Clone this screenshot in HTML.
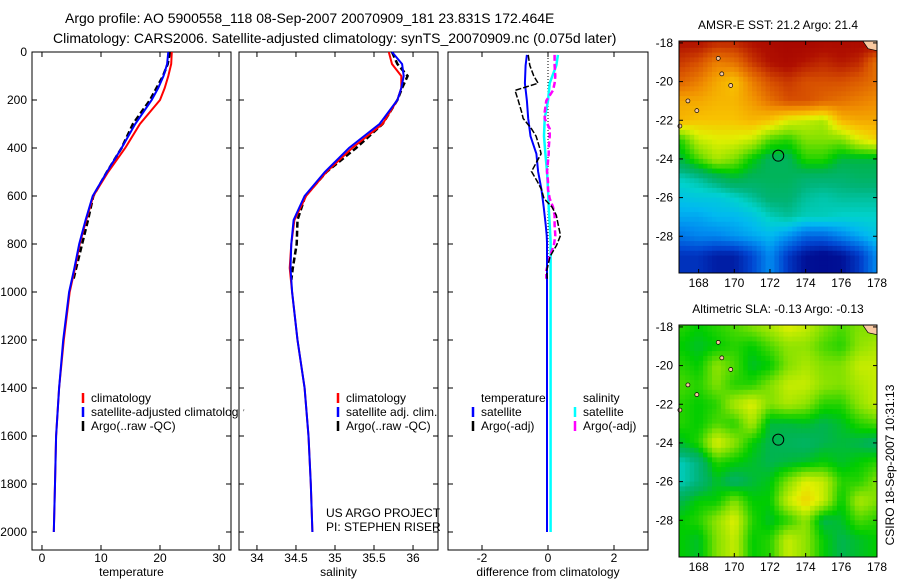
<!DOCTYPE html>
<html><head><meta charset="utf-8"><style>
body{margin:0;background:#fff;width:900px;height:580px;overflow:hidden;font-family:"Liberation Sans",sans-serif}
svg text{font-family:"Liberation Sans",sans-serif;fill:#000}
</style></head><body>
<svg id="s" width="900" height="580" xmlns="http://www.w3.org/2000/svg">
<text x="65" y="23" font-size="14">Argo profile: AO 5900558_118 08-Sep-2007 20070909_181 23.831S 172.464E</text>
<text x="53" y="43" font-size="14">Climatology: CARS2006. Satellite-adjusted climatology: synTS_20070909.nc (0.075d later)</text>
</svg>
<script>
// ---------- DATA ----------
const tDepth=[0,50,100,150,200,300,400,500,600,700,800,900,1000,1200,1400,1600,1800,2000];
const tClim=[22.0,21.9,21.4,20.8,20.0,16.6,14.1,11.2,8.7,7.5,6.4,5.6,4.7,3.7,2.9,2.4,2.2,2.0];
const tSat=[21.4,21.2,20.6,19.7,18.6,15.8,13.5,11.0,8.6,7.4,6.3,5.5,4.6,3.6,2.9,2.4,2.2,2.0];
const aDepth=[0,50,100,150,200,300,400,500,600,700,800,900,950];
const tArgo=[21.7,21.3,20.5,19.4,18.3,15.4,13.5,11.0,8.7,7.8,6.8,5.8,5.3];
const sClim=[35.69,35.73,35.85,35.85,35.80,35.61,35.22,34.89,34.63,34.48,34.44,34.42,34.45,34.52,34.61,34.66,34.69,34.71];
const sSat=[35.73,35.86,35.88,35.85,35.80,35.57,35.18,34.87,34.61,34.47,34.44,34.43,34.45,34.52,34.61,34.66,34.69,34.71];
const sArgo=[35.73,35.80,35.93,35.86,35.80,35.61,35.27,34.89,34.62,34.52,34.51,34.46,34.44];
const dDepth=[12,56,130,203,277,351,424,498,572,646,720,764,793,852,911,970,1000,1500,2000];
const dTSat=[-0.64,-0.68,-0.7,-0.64,-0.6,-0.53,-0.35,-0.3,-0.2,-0.13,-0.07,-0.04,-0.03,-0.03,-0.03,-0.03,-0.03,-0.03,-0.03];
const dSSat=[0.3,0.25,0.05,0,-0.1,-0.12,-0.08,-0.03,0,0.02,0.05,0.07,0.08,0.08,0.08,0.08,0.08,0.08,0.08];
const dArgoDepth=[12,56,100,130,160,203,250,277,320,351,400,424,498,540,572,611,646,680,720,764,805,852,911,945];
const dTArgo=[-0.6,-0.55,-0.43,-0.3,-1.0,-0.9,-0.8,-0.75,-0.5,-0.36,-0.25,-0.21,-0.5,-0.32,-0.2,-0.12,0.12,0.25,0.31,0.38,0.26,0.06,-0.04,-0.02];
const dSArgo=[0.2,0.2,0.22,0.2,0.15,-0.05,-0.1,-0.1,0.05,0.05,0.02,0.02,-0.03,0.0,0.0,0.05,0.15,0.2,0.2,0.22,0.18,0.05,-0.05,-0.05];
const tTicks=[0,10,20,30], sTicks=[34,34.5,35,35.5,36], dTicks=[-2,0,2];
const zTicks=[0,200,400,600,800,1000,1200,1400,1600,1800,2000];
const lonTicks=[168,170,172,174,176,178], latTicks=[-18,-20,-22,-24,-26,-28];
const sstGrid=[
[0.93,0.93,0.9,0.9,0.93,0.95,0.97,0.97,0.95,0.95,0.95,0.95],
[0.88,0.85,0.78,0.8,0.88,0.93,0.95,0.92,0.9,0.92,0.9,0.8],
[0.82,0.78,0.72,0.68,0.78,0.85,0.88,0.85,0.85,0.85,0.83,0.8],
[0.72,0.72,0.7,0.7,0.74,0.8,0.85,0.85,0.82,0.8,0.78,0.76],
[0.7,0.68,0.68,0.68,0.7,0.68,0.62,0.6,0.58,0.7,0.72,0.72],
[0.5,0.6,0.62,0.62,0.6,0.52,0.5,0.55,0.55,0.55,0.62,0.66],
[0.45,0.52,0.58,0.55,0.48,0.43,0.43,0.5,0.5,0.45,0.45,0.45],
[0.36,0.38,0.42,0.45,0.43,0.43,0.43,0.41,0.41,0.41,0.42,0.42],
[0.32,0.33,0.33,0.35,0.38,0.41,0.41,0.38,0.37,0.38,0.38,0.38],
[0.28,0.28,0.3,0.3,0.32,0.36,0.38,0.36,0.36,0.35,0.35,0.35],
[0.22,0.24,0.24,0.26,0.28,0.3,0.26,0.2,0.2,0.24,0.28,0.32],
[0.13,0.13,0.1,0.1,0.16,0.25,0.14,0.08,0.06,0.08,0.14,0.25]];
const slaGrid=[
[0.5,0.48,0.5,0.52,0.55,0.58,0.62,0.6,0.55,0.52,0.55,0.55],
[0.48,0.46,0.48,0.5,0.48,0.52,0.56,0.56,0.52,0.5,0.56,0.58],
[0.5,0.48,0.56,0.52,0.46,0.48,0.55,0.58,0.55,0.55,0.6,0.6],
[0.52,0.5,0.55,0.5,0.5,0.55,0.6,0.6,0.56,0.55,0.58,0.6],
[0.5,0.48,0.5,0.58,0.62,0.55,0.58,0.56,0.5,0.5,0.56,0.6],
[0.5,0.48,0.52,0.5,0.58,0.45,0.45,0.46,0.44,0.46,0.5,0.52],
[0.46,0.5,0.62,0.56,0.48,0.44,0.43,0.42,0.44,0.45,0.44,0.42],
[0.36,0.4,0.5,0.48,0.46,0.44,0.45,0.46,0.48,0.46,0.48,0.5],
[0.36,0.4,0.46,0.42,0.45,0.47,0.55,0.62,0.6,0.5,0.5,0.55],
[0.44,0.48,0.48,0.55,0.48,0.48,0.6,0.66,0.6,0.48,0.58,0.55],
[0.48,0.5,0.56,0.62,0.5,0.46,0.5,0.56,0.44,0.46,0.52,0.5],
[0.48,0.46,0.55,0.6,0.48,0.5,0.6,0.56,0.48,0.44,0.46,0.48]];
const floatLon=172.464, floatLat=-23.831;

// ---------- RENDER ----------
const S=document.getElementById('s'), NS='http://www.w3.org/2000/svg';
function mk(tag,attrs,parent){const e=document.createElementNS(NS,tag);for(const k in attrs)e.setAttribute(k,attrs[k]);(parent||S).appendChild(e);return e;}
const yZ=d=>52+d*0.24;
const panels=[
 {x0:32,x1:231,min:-1.69,max:32.03,ticks:tTicks,label:'temperature',name:'temperature'},
 {x0:239,x1:438,min:33.77,max:36.32,ticks:sTicks,label:'salinity',name:'salinity'},
 {x0:448,x1:648,min:-3.03,max:3.03,ticks:dTicks,label:'difference from climatology',name:'difference'}];
panels.forEach(p=>{p.sx=v=>p.x0+(v-p.min)/(p.max-p.min)*(p.x1-p.x0);});
function line(p,depths,vals,color,w,dash,name){
  const pts=depths.map((d,i)=>p.sx(vals[i]).toFixed(1)+','+yZ(d).toFixed(1)).join(' ');
  const e=mk('polyline',{points:pts,fill:'none',stroke:color,'stroke-width':w});
  if(dash)e.setAttribute('stroke-dasharray',dash);
  
  
}
panels.forEach((p,pi)=>{
  const r=mk('rect',{x:p.x0,y:52,width:p.x1-p.x0,height:498,fill:'#fff',stroke:'#000','stroke-width':1});
  
  
  p.ticks.forEach(t=>{const x=p.sx(t);
    mk('line',{x1:x,y1:550,x2:x,y2:545,stroke:'#000'});mk('line',{x1:x,y1:52,x2:x,y2:57,stroke:'#000'});
    const tx=mk('text',{x:x,y:562,'font-size':12,'text-anchor':'middle'});tx.textContent=t;
    
    });
  zTicks.forEach(z=>{const y=yZ(z);
    mk('line',{x1:p.x0,y1:y,x2:p.x0+5,y2:y,stroke:'#000'});mk('line',{x1:p.x1,y1:y,x2:p.x1-5,y2:y,stroke:'#000'});
    if(pi==0){const tx=mk('text',{x:27,y:y+4,'font-size':12,'text-anchor':'end'});tx.textContent=z;
      
      }});
  const lb=mk('text',{x:(p.x0+p.x1)/2,y:576,'font-size':12,'text-anchor':'middle'});lb.textContent=p.label;
  
  
});
const [P1,P2,P3]=panels;
line(P1,aDepth,tArgo,'#000',2.5,'6,3','temp-argo-line');
line(P1,tDepth,tClim,'#f00',2,null,'temp-climatology-line');
line(P1,tDepth,tSat,'#00f',2,null,'temp-satellite-line');
line(P2,aDepth,sArgo,'#000',2.5,'6,3','sal-argo-line');
line(P2,tDepth,sClim,'#f00',2,null,'sal-climatology-line');
line(P2,tDepth,sSat,'#00f',2,null,'sal-satellite-line');
mk('line',{x1:P3.sx(0),y1:52,x2:P3.sx(0),y2:262,stroke:'#000','stroke-dasharray':'1,2'});
line(P3,dDepth,dSSat,'#0ff',2.5,null,'diff-sal-satellite-line');
line(P3,dArgoDepth,dSArgo,'#f0f',2.5,'6,3','diff-sal-argo-line');
line(P3,dDepth,dTSat,'#00f',2,null,'diff-temp-satellite-line');
line(P3,dArgoDepth,dTArgo,'#000',1.5,'6,2','diff-temp-argo-line');
function leg(x,y,color,txt,name){
  if(color)mk('line',{x1:x,y1:y-9,x2:x,y2:y+1,stroke:color,'stroke-width':2.5});
  const t=mk('text',{x:x+8,y:y,'font-size':12});t.textContent=txt;
  
  
  return t;}
leg(83,402,'#f00','climatology','legend-climatology');
leg(83,416,'#00f','satellite-adjusted climatology','legend-satellite-adjusted');
leg(83,430,'#000','Argo(..raw -QC)','legend-argo');
mk('rect',{x:239.5,y:405,width:4,height:14,fill:'#fff'});
leg(338,402,'#f00','climatology','legend2-climatology');
leg(338,416,'#00f','satellite adj. clim.','legend2-satellite');
leg(338,430,'#000','Argo(..raw -QC)','legend2-argo');
leg(473,402,null,'temperature','legend-temperature-header');
leg(473,416,'#00f','satellite','legend3-temp-satellite');
leg(473,430,'#000','Argo(-adj)','legend3-temp-argo');
leg(575,402,null,'salinity','legend-salinity-header');
leg(575,416,'#0ff','satellite','legend3-sal-satellite');
leg(575,430,'#f0f','Argo(-adj)','legend3-sal-argo');
let t1=mk('text',{x:326,y:517,'font-size':12});t1.textContent='US ARGO PROJECT';

let t2=mk('text',{x:326,y:531,'font-size':12});t2.textContent='PI: STEPHEN RISER';


// maps
const stops=[[0,[0,0,130]],[0.08,[0,16,150]],[0.16,[0,70,210]],[0.25,[0,140,240]],[0.3,[0,185,240]],[0.35,[0,210,205]],[0.4,[0,180,120]],[0.44,[0,180,80]],[0.48,[0,205,0]],[0.55,[130,225,0]],[0.62,[225,240,0]],[0.68,[248,195,0]],[0.76,[240,140,0]],[0.85,[215,80,0]],[0.93,[176,16,0]],[1,[160,0,0]]];
function cmap(v){for(let i=1;i<stops.length;i++){if(v<=stops[i][0]){const a=stops[i-1],b=stops[i],f=(v-a[0])/(b[0]-a[0]);return 'rgb('+a[1].map((c,k)=>Math.round(c+(b[1][k]-c)*f)).join(',')+')';}}return 'rgb(160,0,0)';}
function drawMap(grid,top,bottom,title,name){
  const x0=679,x1=877,lon0=166.9,lon1=178.0,lat0=-17.9,lat1=-29.9;
  const lx=l=>x0+(l-lon0)/(lon1-lon0)*(x1-x0), ly=l=>top+(l-lat0)/(lat1-lat0)*(bottom-top);
  const g=mk('g',{});
  
  
  const step=0.25;
  for(let lat=-17.875;lat>-30;lat-=step){for(let lon=166.875;lon<178;lon+=step){
    let fr=Math.min(11,Math.max(0,-18-lat)), fc=Math.min(11,Math.max(0,lon-167));
    const r0=Math.floor(Math.min(fr,10.999)),c0=Math.floor(Math.min(fc,10.999)),ar=fr-r0,ac=fc-c0;
    const v=grid[r0][c0]*(1-ar)*(1-ac)+grid[r0][c0+1]*(1-ar)*ac+grid[r0+1][c0]*ar*(1-ac)+grid[r0+1][c0+1]*ar*ac;
    const xa=Math.max(x0,lx(lon-step/2)),xb=Math.min(x1,lx(lon+step/2)),ya=Math.max(top,ly(lat+step/2)),yb=Math.min(bottom,ly(lat-step/2));
    if(xb>xa&&yb>ya)mk('rect',{x:xa.toFixed(1),y:ya.toFixed(1),width:(xb-xa+0.4).toFixed(1),height:(yb-ya+0.4).toFixed(1),fill:cmap(v)},g);
  }}
  mk('path',{d:`M${lx(177.2)},${top} L${x1},${top} L${x1},${ly(-18.4)} L${lx(177.5)},${ly(-18.3)} Z`,fill:'#f8c8a0',stroke:'#000','stroke-width':0.7},g);
  [[169.1,-18.8],[169.3,-19.6],[169.8,-20.2],[167.4,-21.0],[167.9,-21.5],[166.95,-22.3]].forEach(([a,b])=>mk('ellipse',{cx:lx(a),cy:ly(b),rx:2,ry:2,fill:'#f8c8a0',stroke:'#000','stroke-width':0.7},g));
  mk('rect',{x:x0,y:top,width:x1-x0,height:bottom-top,fill:'none',stroke:'#000'});
  const c=mk('circle',{cx:lx(floatLon),cy:ly(floatLat),r:5.5,fill:'none',stroke:'#000','stroke-width':1});
  
  
  lonTicks.forEach(l=>{const x=lx(l);mk('line',{x1:x,y1:bottom,x2:x,y2:bottom-4,stroke:'#000'});mk('line',{x1:x,y1:top,x2:x,y2:top+4,stroke:'#000'});
    const t=mk('text',{x:x,y:bottom+14,'font-size':12,'text-anchor':'middle'});t.textContent=l;
    });
  latTicks.forEach(l=>{const y=ly(l);mk('line',{x1:x0,y1:y,x2:x0+4,y2:y,stroke:'#000'});mk('line',{x1:x1,y1:y,x2:x1-4,y2:y,stroke:'#000'});
    const t=mk('text',{x:673,y:y+4,'font-size':12,'text-anchor':'end'});t.textContent=l;
    });
  const tt=mk('text',{x:778,y:top-12,'font-size':12,'text-anchor':'middle'});tt.textContent=title;
  
}
drawMap(sstGrid,41,273,'AMSR-E SST: 21.2 Argo: 21.4','sst-map');
drawMap(slaGrid,325,557,'Altimetric SLA: -0.13 Argo: -0.13','sla-map');
const cs=mk('text',{x:0,y:0,'font-size':12,'text-anchor':'middle',transform:'translate(894,465) rotate(-90)'});cs.textContent='CSIRO 18-Sep-2007 10:31:13';

</script>
</body></html>
